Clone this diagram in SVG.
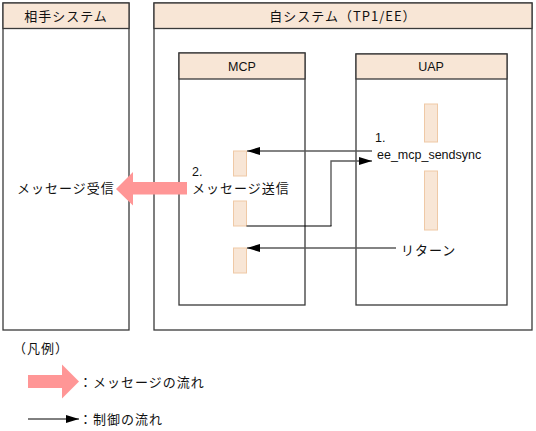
<svg xmlns="http://www.w3.org/2000/svg" width="536" height="431" viewBox="0 0 536 431">
<defs>
<style>
.box{fill:#fff;stroke:#3a3a3a;stroke-width:1.3}
.hdr{fill:#F8E6D6;stroke:#3a3a3a;stroke-width:1.3}
.bar{fill:#F8E6D6;stroke:#EFC9A6;stroke-width:1}
.jp{font-family:"Noto Sans CJK JP","Liberation Sans",sans-serif;font-size:13px;fill:#111;letter-spacing:1px}
.lt{font-family:"Liberation Sans","Noto Sans CJK JP",sans-serif;font-size:12.5px;fill:#111}
.ln{fill:none;stroke:#5a5a5a;stroke-width:1.4}
.pink{fill:#FF9696}
</style>
<marker id="ah" markerUnits="userSpaceOnUse" markerWidth="14" markerHeight="10" refX="13" refY="4" orient="auto">
<path d="M0,0 L13,4 L0,8 z" fill="#000"/>
</marker>
</defs>

<g id="partner-system">
<rect class="box" x="3" y="3" width="126" height="327"/>
<rect class="hdr" x="3" y="3" width="126" height="25.5"/>
<text class="jp" x="66" y="20.5" text-anchor="middle">相手システム</text>
<text class="jp" x="17" y="193">メッセージ受信</text>
</g>

<g id="own-system">
<rect class="box" x="154" y="3" width="378" height="327"/>
<rect class="hdr" x="154" y="3" width="378" height="25.5"/>
<text class="jp" x="343" y="20.5" text-anchor="middle" letter-spacing="0.3">自システム（TP1/EE）</text>
</g>

<g id="mcp">
<rect class="box" x="179" y="53" width="126" height="252"/>
<rect class="hdr" x="179" y="53" width="126" height="26"/>
<text class="lt" x="242" y="71" text-anchor="middle" font-size="12">MCP</text>
<rect class="bar" x="233.5" y="151" width="13" height="25"/>
<rect class="bar" x="233.5" y="201" width="13" height="25"/>
<rect class="bar" x="233.5" y="248" width="13" height="25"/>
<text class="lt" x="192" y="176">2.</text>
<text class="jp" x="192" y="193">メッセージ送信</text>
</g>

<g id="uap">
<rect class="box" x="356" y="54" width="151" height="251"/>
<rect class="hdr" x="356" y="54" width="151" height="25"/>
<text class="lt" x="431" y="71" text-anchor="middle" font-size="12">UAP</text>
<rect class="bar" x="424.5" y="104" width="13" height="38"/>
<rect class="bar" x="424.5" y="171" width="13" height="59"/>
<text class="lt" x="375" y="142">1.</text>
<text class="lt" x="377" y="159">ee_mcp_sendsync</text>
<text class="jp" x="401" y="255">リターン</text>
</g>

<g id="connectors">
<polygon class="pink" points="187,182 133,182 133,172 116,189 133,205.5 133,194.5 187,194.5"/>
<line class="ln" x1="372" y1="151" x2="247" y2="151" marker-end="url(#ah)"/>
<path class="ln" d="M331,226 L331,161 L372,161" marker-end="url(#ah)"/>
<line x1="246.5" y1="226" x2="331.5" y2="226" stroke="#000" stroke-width="1.2"/>
<line class="ln" x1="396" y1="248" x2="247" y2="248" marker-end="url(#ah)"/>
</g>

<g id="legend">
<text class="jp" x="13" y="353" letter-spacing="0">（凡例）</text>
<polygon class="pink" points="28,375 62,375 62,364.5 79,381.5 62,398.5 62,388 28,388"/>
<text class="jp" x="79" y="386.5">：メッセージの流れ</text>
<line x1="28" y1="419" x2="79" y2="419" stroke="#000" stroke-width="1" marker-end="url(#ah)"/>
<text class="jp" x="79" y="424">：制御の流れ</text>
</g>
</svg>
